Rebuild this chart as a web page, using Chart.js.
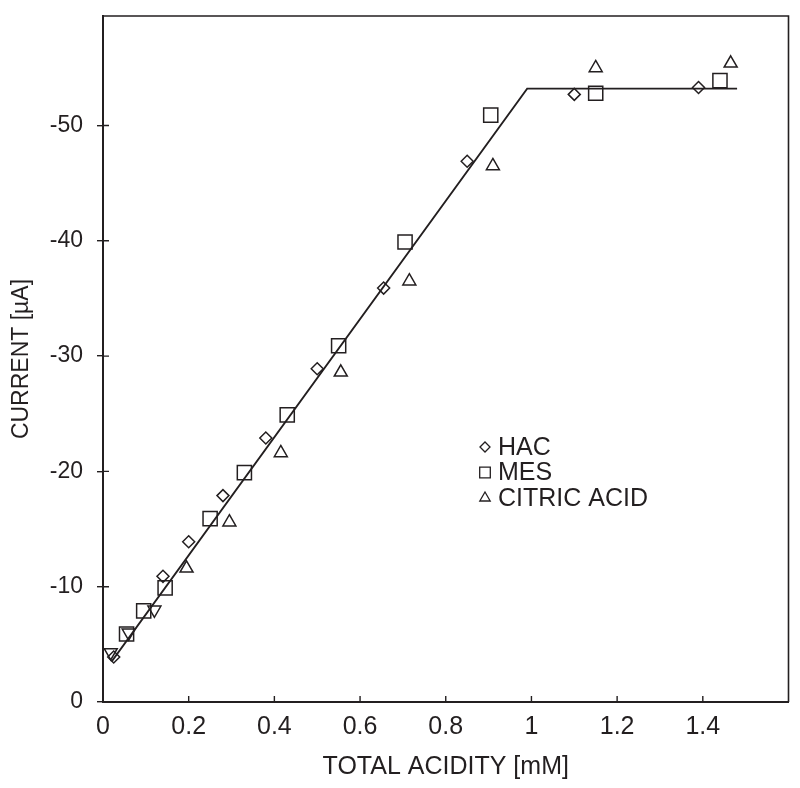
<!DOCTYPE html>
<html>
<head>
<meta charset="utf-8">
<script src="https://cdn.jsdelivr.net/npm/chart.js@4/dist/chart.umd.min.js"></script>
<style>
  html, body { margin: 0; padding: 0; background: #fff; }
  #wrap { width: 800px; height: 788px; }
</style>
</head>
<body>
<div id="wrap"><canvas id="c" width="800" height="788"></canvas></div>
<script>
  // valeurs
  var HAC_X = [0.025, 0.14, 0.2, 0.28, 0.38, 0.5, 0.655, 0.85, 1.1, 1.39];
  var HAC_Y = [-3.9, -10.9, -13.9, -17.9, -22.9, -28.9, -35.9, -46.9, -52.7, -53.3];

  var MES_X = [0.055, 0.095, 0.145, 0.25, 0.33, 0.43, 0.55, 0.705, 0.905, 1.15, 1.44];
  var MES_Y = [-5.9, -7.9, -9.9, -15.9, -19.9, -24.9, -30.9, -39.9, -50.9, -52.8, -53.9];

  var CIT_X = [0.018, 0.06, 0.12, 0.195, 0.295, 0.415, 0.555, 0.715, 0.91, 1.15, 1.465];
  var CIT_Y = [-4.3, -6.0, -8.0, -11.6, -15.6, -21.6, -28.6, -36.5, -46.5, -55.0, -55.4];
  var CIT_ROT = [180, 180, 180, 0, 0, 0, 0, 0, 0, 0, 0];

  var FIT_X = [0.02, 0.99, 1.48];
  var FIT_Y = [-3.5, -53.2, -53.2];

  var X_TICKS = [0, 0.2, 0.4, 0.6, 0.8, 1, 1.2, 1.4];
  var Y_TICKS = [0, -10, -20, -30, -40, -50];

  var INK = "#231f20";
  var SANS = "'Liberation Sans', Arial, sans-serif";

  function pts(xs, ys) {
    return xs.map(function (x, i) { return { x: x, y: ys[i] }; });
  }

  // cadre + graduations vers l'intérieur
  var cadre = {
    id: "cadre",
    afterDraw: function (chart) {
      var ctx = chart.ctx, a = chart.chartArea;
      var sx = chart.scales.x, sy = chart.scales.y;
      ctx.save();
      ctx.strokeStyle = INK;
      ctx.lineWidth = 1.6;
      ctx.beginPath();
      ctx.moveTo(a.left, a.top); ctx.lineTo(a.right, a.top); ctx.lineTo(a.right, a.bottom);
      ctx.stroke();
      ctx.lineWidth = 1.4;
      ctx.beginPath();
      X_TICKS.forEach(function (v) {
        if (v === 0) return;
        var px = sx.getPixelForValue(v);
        ctx.moveTo(px, a.bottom); ctx.lineTo(px, a.bottom - 6);
      });
      Y_TICKS.forEach(function (v) {
        if (v === 0) return;
        var py = sy.getPixelForValue(v);
        ctx.moveTo(a.left, py); ctx.lineTo(a.left + 6, py);
      });
      ctx.stroke();
      ctx.restore();
    }
  };

  // légende placée dans la zone du graphique
  var legende = {
    id: "legende",
    afterDraw: function (chart, args, opts) {
      var ctx = chart.ctx;
      ctx.save();
      ctx.textBaseline = "middle";
      ctx.strokeStyle = INK;
      ctx.lineWidth = 1.3;
      chart.data.datasets.forEach(function (ds, i) {
        if (ds.type === "line") return;
        var y = opts.y + i * opts.step;
        ctx.fillStyle = "rgba(0,0,0,0)";
        Chart.helpers.drawPoint(ctx, {
          pointStyle: ds.pointStyle, rotation: 0,
          radius: opts.radius[ds.pointStyle], borderWidth: 1.3
        }, opts.x, y);
        ctx.fillStyle = INK;
        ctx.font = opts.font;
        ctx.fillText(ds.label, opts.x + 13, y + 1);
      });
      ctx.restore();
    }
  };

  var commun = {
    type: "scatter",
    borderColor: INK,
    backgroundColor: "rgba(0,0,0,0)",
    borderWidth: 1.5,
    pointBorderWidth: 1.5
  };

  new Chart(document.getElementById("c"), {
    data: {
      datasets: [
        Object.assign({}, commun, { label: "HAC", data: pts(HAC_X, HAC_Y), pointStyle: "rectRot", pointRadius: 6 }),
        Object.assign({}, commun, { label: "MES", data: pts(MES_X, MES_Y), pointStyle: "rect", pointRadius: 10 }),
        Object.assign({}, commun, { label: "CITRIC ACID", data: pts(CIT_X, CIT_Y), pointStyle: "triangle", pointRadius: 7.5, pointRotation: CIT_ROT }),
        { type: "line", label: "fit", data: pts(FIT_X, FIT_Y), borderColor: INK, borderWidth: 1.8,
          pointRadius: 0, fill: false, tension: 0 }
      ]
    },
    options: {
      responsive: false,
      animation: false,
      layout: { padding: { top: 16, right: 5, left: 0, bottom: 0 } },
      plugins: {
        legend: { display: false },
        tooltip: { enabled: false },
        legende: {
          x: 485, y: 447, step: 25.5, font: "25px " + SANS,
          radius: { rectRot: 5, rect: 7.5, triangle: 6 }
        }
      },
      scales: {
        x: {
          type: "linear", min: 0, max: 1.6,
          afterBuildTicks: function (s) { s.ticks = X_TICKS.map(function (v) { return { value: v }; }); },
          afterFit: function (s) { s.height = 86; s.paddingLeft = 0; s.paddingRight = 0; },
          border: { display: true, color: INK, width: 2 },
          grid: { display: false, drawTicks: false },
          ticks: {
            color: INK, padding: 10, maxRotation: 0,
            font: { family: SANS, size: 25 },
            callback: function (v) { return String(Math.round(v * 10) / 10); }
          },
          title: {
            display: true, text: "TOTAL ACIDITY [mM]", color: INK,
            font: { family: SANS, size: 25 }, padding: { top: 0, bottom: 6 }
          }
        },
        y: {
          type: "linear", min: -59.5, max: 0, reverse: true,
          afterBuildTicks: function (s) { s.ticks = Y_TICKS.map(function (v) { return { value: v }; }); },
          afterFit: function (s) { s.width = 103; s.paddingTop = 0; s.paddingBottom = 0; },
          border: { display: true, color: INK, width: 2 },
          grid: { display: true, drawOnChartArea: false, drawTicks: true, tickLength: 6, color: INK, lineWidth: 1.4 },
          ticks: {
            color: INK, padding: 14,
            font: { family: SANS, size: 23 }
          },
          title: {
            display: true, text: "CURRENT [µA]", color: INK,
            font: { family: SANS, size: 23 }, padding: { top: 8, bottom: 6 }
          }
        }
      }
    },
    plugins: [cadre, legende]
  });
</script>
</body>
</html>
